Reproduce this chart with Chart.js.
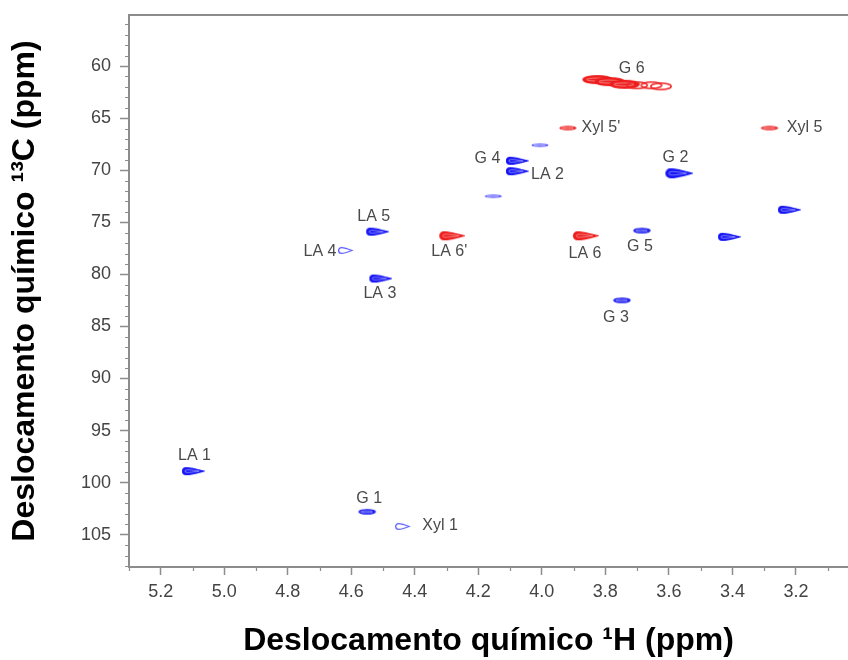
<!DOCTYPE html>
<html>
<head>
<meta charset="utf-8">
<script src="https://cdn.jsdelivr.net/npm/chart.js@4.4.1/dist/chart.umd.min.js"></script>
<style>
  body { margin: 0; background: #fff; }
</style>
</head>
<body>
<canvas id="hsqcChart" width="848" height="660"></canvas>
<script>
// CH / CH3 correlations (blue)
var chNames = ['LA 1', 'G 1', 'Xyl 1', 'LA 5', 'LA 4', 'LA 3', 'G 4', 'LA 2', '', '', 'G 2', '', 'G 5', '', 'G 3'];
var chH     = [5.10, 4.55, 4.44, 4.52, 4.62, 4.51, 4.08, 4.08, 4.006, 4.153, 3.57, 3.223, 3.685, 3.412, 3.748];
var chC     = [98.9, 102.8, 104.2, 75.9, 77.7, 80.4, 69.1, 70.1, 67.6, 72.5, 70.3, 73.8, 75.8, 76.4, 82.5];

// CH2 correlations (red)
var ch2Names = ["LA 6'", 'LA 6', "Xyl 5'", 'Xyl 5', '', '', 'G 6', '', '', ''];
var ch2H     = [4.285, 3.864, 3.918, 3.283, 3.825, 3.786, 3.739, 3.70, 3.655, 3.625];
var ch2C     = [76.3, 76.3, 65.95, 65.95, 61.3, 61.5, 61.75, 61.85, 61.85, 61.95];

var xTicks = [5.2, 5.0, 4.8, 4.6, 4.4, 4.2, 4.0, 3.8, 3.6, 3.4, 3.2];
var yTicks = [60, 65, 70, 75, 80, 85, 90, 95, 100, 105];

// look of each contour, in the same order as the peaks
var chStyle  = ['heavy', 'mid', 'thin', 'heavy', 'thin', 'heavy', 'heavy', 'heavy', 'faint', 'faint',
                'big', 'heavy', 'mid', 'heavy', 'mid'];
var ch2Style = ['red', 'red', 'redS', 'redS', 'redC', 'redC', 'redC', 'redO', 'redO', 'redO'];

// label offsets in pixels from the contour
var labelOffset = {
    'LA 1': [2, -16], 'G 1': [2, -13], 'Xyl 1': [38, -1], 'LA 5': [-3, -15], 'LA 4': [-25, 1],
    'LA 3': [0, 15], 'G 4': [-29, -2], 'LA 2': [31, 3], 'G 2': [-3, -16], 'G 5': [-2, 16],
    'G 3': [-6, 17], "LA 6'": [-2, 16], 'LA 6': [0, 18], "Xyl 5'": [33, 0], 'Xyl 5': [35, 0],
    'G 6': [7, -16]
};

function teardrop(c, w, h) {
    var r = h / 2;
    c.beginPath();
    c.moveTo(w - 1, h / 2);
    c.bezierCurveTo(w * 0.6, h * 0.2, r * 2, 0.6, r + 1, 0.6);
    c.arc(r + 1, h / 2, r - 0.6, -Math.PI / 2, Math.PI / 2, true);
    c.bezierCurveTo(r * 2, h - 0.6, w * 0.6, h * 0.8, w - 1, h / 2);
    c.closePath();
}

function oval(c, w, h) {
    c.beginPath();
    c.ellipse(w / 2, h / 2, w / 2 - 0.8, h / 2 - 0.8, 0, 0, Math.PI * 2);
}

function makeBlob(w, h, color, filled, lw, shape) {
    var cv = document.createElement('canvas');
    cv.width = w + 2;
    cv.height = h + 2;
    var c = cv.getContext('2d');
    var path = shape || teardrop;
    c.translate(1, 1);
    path(c, w, h);
    c.lineWidth = lw;
    c.strokeStyle = color;
    if (filled) {
        c.fillStyle = color;
        c.fill();
        c.stroke();
        c.save();
        c.translate(w * 0.12, h * 0.3);
        c.scale(0.7, 0.4);
        path(c, w, h);
        c.restore();
        c.lineWidth = 0.8;
        c.strokeStyle = 'rgba(255,255,255,0.55)';
        c.stroke();
    } else {
        c.stroke();
    }
    return cv;
}

var blobs = {
    heavy: makeBlob(23, 8, '#1616f5', true, 1.4),
    big: makeBlob(28, 10, '#1616f5', true, 1.4),
    mid: makeBlob(18, 6, '#2020f2', true, 1.2, oval),
    thin: makeBlob(16, 7, '#5a5aff', false, 1.3),
    faint: makeBlob(18, 4, '#4a4aff', true, 0.8, oval),
    red: makeBlob(26, 9, '#ee1c1c', true, 1.4),
    redS: makeBlob(18, 5, '#ee2a2a', true, 1.0, oval),
    redC: makeBlob(30, 9, '#ee1c1c', true, 1.6, oval),
    redO: makeBlob(22, 8, '#ee2424', false, 1.5, oval)
};

function styleFor(styles) {
    return function (ctx) { return blobs[styles[ctx.dataIndex]]; };
}

function toPoints(hs, cs) {
    return hs.map(function (h, i) { return { x: h, y: cs[i] }; });
}

var peakLabels = {
    id: 'peakLabels',
    afterDraw: function (chart) {
        var c = chart.ctx;
        var area = chart.chartArea;
        var xs = chart.scales.x, ys = chart.scales.y;
        c.save();
        // top frame line
        c.strokeStyle = '#8c8c8c';
        c.lineWidth = 2;
        c.beginPath();
        c.moveTo(area.left - 1, area.top);
        c.lineTo(chart.width, area.top);
        c.stroke();
        // minor ticks
        c.lineWidth = 1.2;
        c.beginPath();
        for (var v = 31; v <= 53; v++) {
            if (v % 2 === 0) continue;
            var px = Math.round(xs.getPixelForValue(v / 10)) + 0.5;
            c.moveTo(px, area.bottom);
            c.lineTo(px, area.bottom + 4);
        }
        for (var u = 56; u <= 108; u++) {
            if (u % 5 === 0) continue;
            var py = Math.round(ys.getPixelForValue(u)) + 0.5;
            c.moveTo(area.left, py);
            c.lineTo(area.left - 4, py);
        }
        c.stroke();
        // peak labels
        c.font = '16px Arial, "Liberation Sans", sans-serif';
        c.fillStyle = '#4a4a4a';
        c.textAlign = 'center';
        c.textBaseline = 'middle';
        chart.data.datasets.forEach(function (ds, di) {
            var meta = chart.getDatasetMeta(di);
            ds.names.forEach(function (name, i) {
                if (!name) return;
                var el = meta.data[i];
                var off = labelOffset[name] || [0, -14];
                c.fillText(name, el.x + off[0], el.y + off[1]);
            });
        });
        c.restore();
    }
};

var tickFont = { family: 'Arial, "Liberation Sans", sans-serif', size: 18 };
var titleFont = { family: 'Arial, "Liberation Sans", sans-serif', size: 32, weight: 'bold' };

var ctx = document.getElementById('hsqcChart').getContext('2d');
var hsqcChart = new Chart(ctx, {
    type: 'scatter',
    data: {
        datasets: [{
            label: 'CH',
            names: chNames,
            data: toPoints(chH, chC),
            pointStyle: styleFor(chStyle),
            pointRadius: 3
        }, {
            label: 'CH2',
            names: ch2Names,
            data: toPoints(ch2H, ch2C),
            pointStyle: styleFor(ch2Style),
            pointRadius: 3
        }]
    },
    options: {
        responsive: false,
        animation: false,
        layout: { autoPadding: false, padding: { top: 15, right: 0, left: 0, bottom: 0 } },
        plugins: {
            legend: { display: false },
            tooltip: { enabled: false }
        },
        scales: {
            x: {
                type: 'linear',
                reverse: true,
                min: 3.036,
                max: 5.3,
                afterFit: function (scale) {
                    scale.height = 93;
                    scale.paddingLeft = 0;
                    scale.paddingRight = 0;
                },
                afterBuildTicks: function (scale) {
                    scale.ticks = xTicks.slice().sort(function (a, b) { return a - b; })
                        .map(function (v) { return { value: v }; });
                },
                border: { color: '#8c8c8c', width: 2 },
                grid: { drawOnChartArea: false, tickLength: 8, tickColor: '#8c8c8c', tickWidth: 1.5 },
                ticks: {
                    color: '#444',
                    font: tickFont,
                    padding: 6,
                    maxRotation: 0,
                    callback: function (v) { return v.toFixed(1); }
                },
                title: {
                    display: true,
                    text: 'Deslocamento químico ¹H (ppm)',
                    color: '#000',
                    font: titleFont,
                    padding: { top: 0, bottom: 0 }
                }
            },
            y: {
                type: 'linear',
                reverse: true,
                min: 55.1,
                max: 108.1,
                afterFit: function (scale) {
                    scale.width = 129;
                    scale.paddingTop = 0;
                    scale.paddingBottom = 0;
                },
                afterBuildTicks: function (scale) {
                    scale.ticks = yTicks.map(function (v) { return { value: v }; });
                },
                border: { color: '#8c8c8c', width: 2 },
                grid: { drawOnChartArea: false, tickLength: 9, tickColor: '#8c8c8c', tickWidth: 1.5 },
                ticks: {
                    color: '#444',
                    font: tickFont,
                    padding: 9
                },
                title: {
                    display: true,
                    text: 'Deslocamento químico ¹³C (ppm)',
                    color: '#000',
                    font: titleFont,
                    padding: { top: 6, bottom: 0 }
                }
            }
        }
    },
    plugins: [peakLabels]
});
</script>
</body>
</html>
